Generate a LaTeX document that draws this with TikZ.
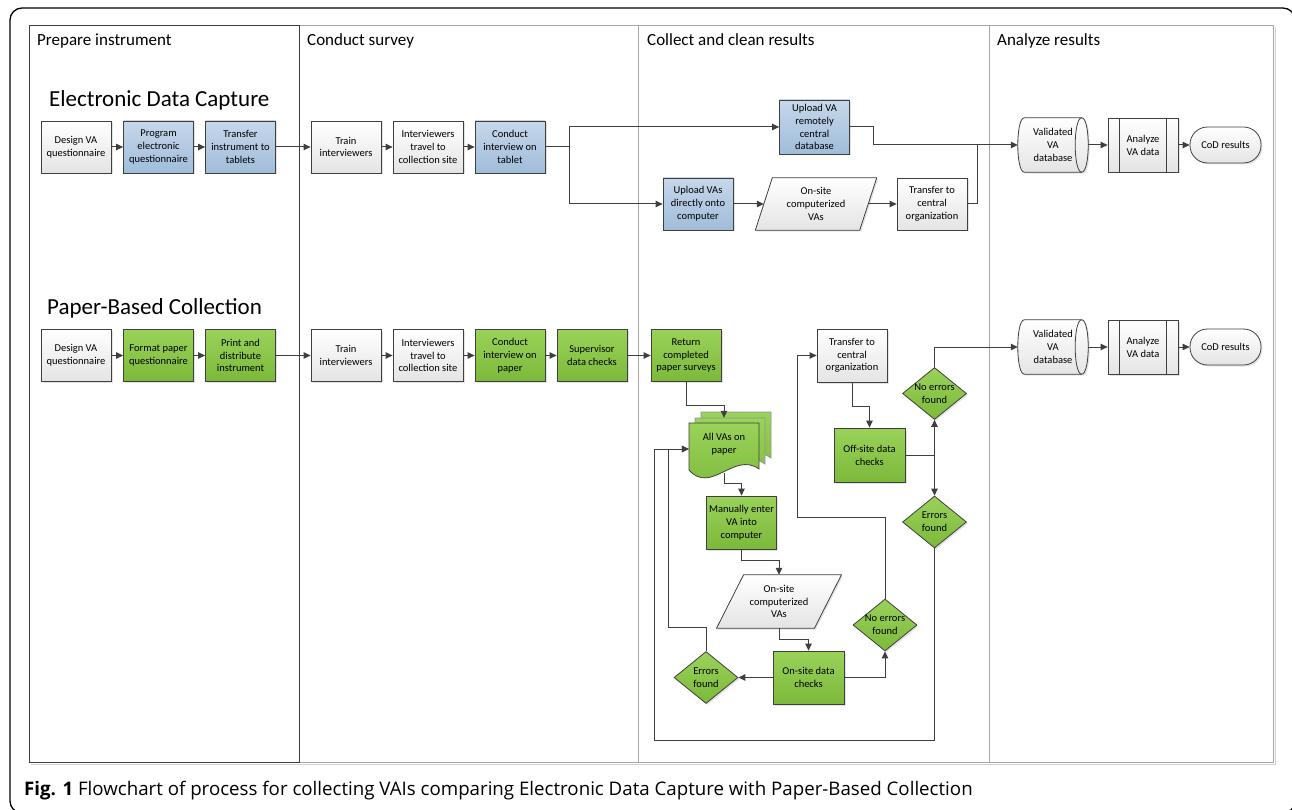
\documentclass[tikz,border=0pt]{standalone}
\usepackage{fontspec}
\setmainfont{Carlito}
\newfontfamily\capfont{Open Sans}
\usetikzlibrary{shapes.geometric,arrows.meta,shadows}
\pgfdeclarelayer{bg}
\pgfdeclarelayer{paper}
\pgfsetlayers{paper,bg,main}

\definecolor{lineC}{HTML}{3F3F3F}
\definecolor{blueT}{HTML}{C6D7EA}
\definecolor{blueB}{HTML}{A0BDDA}
\definecolor{greenT}{HTML}{9AD25A}
\definecolor{greenB}{HTML}{7CB93A}
\definecolor{whiteB}{HTML}{E4E4E4}
\definecolor{laneC}{HTML}{A6A6A6}

\newcommand\boxfont{\fontsize{10.5}{12.8}\selectfont}
\newcommand\docsheet[3]{%
  \draw[draw=#3, line width=0.8pt, top color=greenT, bottom color=greenB]
    (#1,#2) -- (#1+70,#2) -- (#1+70,#2+46)
    .. controls (#1+45,#2+28) and (#1+22,#2+72) .. (#1,#2+47) -- cycle;}

\tikzset{
  shad/.style={drop shadow={shadow xshift=1.5pt,shadow yshift=-1.5pt,opacity=0.22}},
  proc/.style={draw=lineC, line width=0.8pt, minimum width=70pt, minimum height=52pt,
    align=center, inner sep=1pt, font=\boxfont, shad},
  wbox/.style={proc, top color=white, bottom color=whiteB},
  bbox/.style={proc, top color=blueT, bottom color=blueB},
  gbox/.style={proc, top color=greenT, bottom color=greenB},
  dec/.style={diamond, draw=lineC, line width=0.8pt, minimum width=64pt, minimum height=52pt,
    aspect=1.23, inner sep=-4pt, align=center, font=\boxfont,
    top color=greenT, bottom color=greenB, shad},
  txt/.style={draw=none, align=center, font=\boxfont, inner sep=0pt},
  term/.style={wbox, rounded corners=17.5pt, minimum width=71pt, minimum height=36pt},
  outl/.style={draw=lineC, line width=0.8pt, top color=white, bottom color=whiteB, shad},
  arr/.style={draw=lineC, line width=1pt, -{Triangle[length=7pt,width=6.5pt]}},
  ln/.style={draw=lineC, line width=1pt},
  lanetitle/.style={anchor=base west, font=\fontsize{17}{20}\selectfont, inner sep=0pt},
  sectitle/.style={anchor=west, font=\fontsize{23}{26}\selectfont, inner sep=0pt},
}

\begin{document}
\begin{tikzpicture}[x=1pt,y=-1pt]
\useasboundingbox (0,0) rectangle (1292,810);
\begin{pgfonlayer}{paper}
\fill[white] (0,0) rectangle (1292,810);
\end{pgfonlayer}
\clip (0,0) rectangle (1292,810);

% outer frame
\draw[black, line width=1.3pt, rounded corners=12pt] (10,8) rectangle (1295,813);

% swimlanes
\draw[black!18, line width=1.8pt] (31,764.5) -- (1275.5,764.5) -- (1275.5,27);
\draw[laneC, line width=0.8pt] (299,25) -- (1273,25) -- (1273,762) -- (299,762);
\draw[laneC, line width=0.8pt] (638.5,25) -- (638.5,762) (989,25) -- (989,762);
\draw[lineC, line width=0.9pt] (29,25) rectangle (299,762);

\node[lanetitle] (l1) at (37,45.5) {Prepare instrument};
\node[lanetitle] (l2) at (307,45.5) {Conduct survey};
\node[lanetitle] (l3) at (647,45.5) {Collect and clean results};
\node[lanetitle] (l4) at (997,45.5) {Analyze results};

\node[sectitle] (h1) at (49,100) {Electronic Data Capture};
\node[sectitle] (h2) at (47,308) {Paper-Based Collection};

% ---------- Electronic Data Capture ----------
\node[wbox] (e1) at (76,147) {Design VA\\questionnaire};
\node[bbox] (e2) at (158.5,147) {Program\\electronic\\questionnaire};
\node[bbox] (e3) at (240.5,147) {Transfer\\instrument to\\tablets};
\node[wbox] (e4) at (346,147) {Train\\interviewers};
\node[wbox] (e5) at (428,147) {Interviewers\\travel to\\collection site};
\node[bbox] (e6) at (510,147) {Conduct\\interview on\\tablet};
\node[bbox, minimum height=54pt] (u1) at (814.5,127) {Upload VA\\remotely\\central\\database};
\node[bbox] (u2) at (698,204) {Upload VAs\\directly onto\\computer};
\node[txt, minimum width=104pt, minimum height=52pt] (q1) at (816,204) {On-site\\computerized\\VAs};
\node[wbox] (t1) at (932,204) {Transfer to\\central\\organization};
\node[txt, minimum width=70pt, minimum height=54pt] (db1) at (1053,145) {Validated\\VA\\database};
\node[wbox, minimum height=54pt] (an1) at (1143,145) {Analyze\\VA data};
\node[term] (cod1) at (1225.5,145) {CoD results};

% ---------- Paper-Based Collection ----------
\node[wbox] (p1) at (76,355.5) {Design VA\\questionnaire};
\node[gbox] (p2) at (158.5,355.5) {Format paper\\questionnaire};
\node[gbox] (p3) at (240.5,355.5) {Print and\\distribute\\instrument};
\node[wbox] (p4) at (346,355.5) {Train\\interviewers};
\node[wbox] (p5) at (428,355.5) {Interviewers\\travel to\\collection site};
\node[gbox] (p6) at (510,355.5) {Conduct\\interview on\\paper};
\node[gbox] (p7) at (592,355.5) {Supervisor\\data checks};
\node[gbox] (p8) at (686,355.5) {Return\\completed\\paper surveys};
\node[txt, minimum width=70pt, minimum height=52pt] (doc) at (724,449) {};
\node[txt] (doct) at (724,444) {All VAs on\\paper};
\node[gbox, minimum height=53pt] (m1) at (741.5,522.5) {Manually enter\\VA into\\computer};
\node[txt, minimum width=97.5pt, minimum height=53pt] (q2) at (779,601.5) {On-site\\computerized\\VAs};
\node[gbox, minimum width=71pt, minimum height=53pt] (c1) at (808.5,677.5) {On-site data\\checks};
\node[dec] (ef1) at (706,677.5) {Errors\\found};
\node[dec] (nf1) at (885,625) {No errors\\found};
\node[wbox, minimum height=53pt] (t2) at (852,355.5) {Transfer to\\central\\organization};
\node[gbox, minimum width=71pt, minimum height=54pt] (o1) at (869.5,455) {Off-site data\\checks};
\node[dec] (nf2) at (934.5,393.5) {No errors\\found};
\node[dec] (ef2) at (934.5,522) {Errors\\found};
\node[txt, minimum width=70pt, minimum height=54pt] (db2) at (1053,347) {Validated\\VA\\database};
\node[wbox, minimum height=54pt] (an2) at (1143,347) {Analyze\\VA data};
\node[term] (cod2) at (1225.5,347) {CoD results};

% ---------- drawn shapes (behind text) ----------
\begin{pgfonlayer}{bg}
  % parallelograms
  \draw[outl] ([xshift=-8.5pt]q1.south west) -- ([xshift=8.5pt]q1.north west)
     -- ([xshift=8.5pt]q1.north east) -- ([xshift=-8.5pt]q1.south east) -- cycle;
  \draw[outl] ([xshift=-13.5pt]q2.south west) -- ([xshift=13.5pt]q2.north west)
     -- ([xshift=13.5pt]q2.north east) -- ([xshift=-13.5pt]q2.south east) -- cycle;
  % databases
  \foreach \d in {db1,db2}{
    \draw[outl] ([xshift=6.5pt]\d.north west) -- ([xshift=-6.5pt]\d.north east)
      .. controls +(8.7,0) and +(8.7,0) .. ([xshift=-6.5pt]\d.south east)
      -- ([xshift=6.5pt]\d.south west)
      .. controls +(-8.7,0) and +(-8.7,0) .. ([xshift=6.5pt]\d.north west) -- cycle;
    \draw[draw=lineC, line width=0.8pt] ([xshift=-6.5pt]\d.north east)
      .. controls +(-8.7,0) and +(-8.7,0) .. ([xshift=-6.5pt]\d.south east);
  }
  % stacked documents
  \docsheet{701}{412}{lineC!55}
  \docsheet{695}{418}{lineC!55}
  \begin{scope}[shad]
  \docsheet{689}{423}{lineC}
  \end{scope}
\end{pgfonlayer}

% predefined process bars
\foreach \a in {an1,an2}{
  \draw[draw=lineC, line width=0.8pt] ([xshift=12pt]\a.north west) -- ([xshift=12pt]\a.south west);
  \draw[draw=lineC, line width=0.8pt] ([xshift=-12pt]\a.north east) -- ([xshift=-12pt]\a.south east);
}

% ---------- connectors: EDC ----------
\draw[arr] (e1.east) -- (e2.west);
\draw[arr] (e2.east) -- (e3.west);
\draw[arr] (e3.east) -- (e4.west);
\draw[arr] (e4.east) -- (e5.west);
\draw[arr] (e5.east) -- (e6.west);
\coordinate (s1) at (569,147);
\draw[ln] (e6.east) -- (s1);
\draw[arr] (s1) |- (u1.west);
\draw[arr] (s1) |- (u2.west);
\draw[arr] (u2.east) -- (q1.west);
\draw[arr] (q1.east) -- (t1.west);
\draw[arr] (u1.east) -- ++(24,0) |- (db1.west);
\coordinate (m0) at (977,145);
\draw[ln] (t1.east) -| (m0);
\draw[arr] (db1.east) -- (an1.west);
\draw[arr] (an1.east) -- (cod1.west);

% ---------- connectors: paper ----------
\draw[arr] (p1.east) -- (p2.west);
\draw[arr] (p2.east) -- (p3.west);
\draw[arr] (p3.east) -- (p4.west);
\draw[arr] (p4.east) -- (p5.west);
\draw[arr] (p5.east) -- (p6.west);
\draw[arr] (p6.east) -- (p7.west);
\draw[arr] (p7.east) -- (p8.west);
\draw[arr] (p8.south) -- ++(0,24) -| ([yshift=5pt]doc.north);
\draw[arr] ([yshift=2pt]doc.south) -- ++(0,10) -| (m1.north);
\draw[arr] (m1.south) -- ++(0,11) -| (q2.north);
\draw[arr] (q2.south) -- ++(0,11) -| (c1.north);
\draw[arr] (c1.west) -- (ef1.east);
\draw[arr] (c1.east) -| (nf1.south);
\coordinate (j1) at (668,449);
\draw[arr] (ef1.north) -- ++(0,-24) -| (j1) -- (doc.west);
\coordinate (k1) at (797,517);
\draw[arr] (nf1.north) |- (k1) |- (t2.west);
\draw[arr] (t2.south) -- ++(0,24) -| (o1.north);
\coordinate (j2) at (934.5,455);
\draw[ln] (o1.east) -- (j2);
\draw[arr] (j2) -- (nf2.south);
\draw[arr] (j2) -- (ef2.north);
\draw[arr] (nf2.north) |- (db2.west);
\coordinate (k2) at (654,740);
\draw[arr] (ef2.south) |- (k2) |- (doc.west);
\draw[arr] (db2.east) -- (an2.west);
\draw[arr] (an2.east) -- (cod2.west);

% caption
\node[anchor=west, inner sep=0pt, font=\capfont\fontsize{18.7}{22}\selectfont] (cap) at (24,791)
  {\textbf{Fig. 1} Flowchart of process for collecting VAIs comparing Electronic Data Capture with Paper-Based Collection};
\end{tikzpicture}
\end{document}
